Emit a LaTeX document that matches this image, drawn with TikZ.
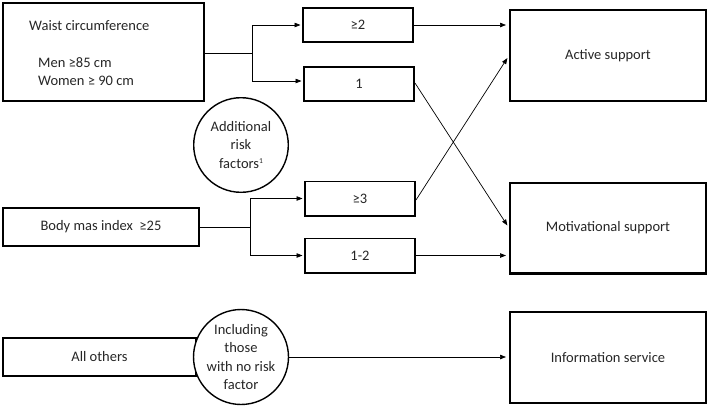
\documentclass[tikz,border=0pt]{standalone}
\usepackage{fontspec}
\setmainfont{Carlito}
\usetikzlibrary{arrows.meta}
\begin{document}
\begin{tikzpicture}[x=1pt,y=-1pt,
  font=\fontsize{14.5}{18.5}\selectfont,
  every node/.style={text=black!85},
  box/.style={draw=black, line width=1.6pt, inner sep=0pt},
  bigbox/.style={draw=black, line width=2.4pt, inner sep=0pt, minimum width=195.6pt, minimum height=90.6pt},
  smallbox/.style={draw=black, line width=1.6pt, minimum width=110.4pt, minimum height=34.4pt, inner sep=0pt},
  circ/.style={draw=black, fill=white, circle, line width=1.4pt, minimum size=94.6pt, inner sep=0pt, align=center},
  conn/.style={line width=0.7pt, -{Triangle[length=6pt,width=4.5pt]}},
  plainln/.style={line width=0.7pt}]
\useasboundingbox (0,0) rectangle (710,408);
% left boxes
\node[box, minimum width=201.4pt, minimum height=98.4pt] (waist) at (103.5,52) {};
\node[anchor=base west, inner sep=0pt] (waisttitle) at (29,30) {Waist circumference};
\node[anchor=base west, inner sep=0pt] (men) at (38,67) {Men ≥85 cm};
\node[anchor=base west, inner sep=0pt] (women) at (38,85) {Women ≥ 90 cm};
\node[box, minimum width=196.4pt, minimum height=38.4pt] (bmi) at (101,227) {Body mas index \ ≥25};
\node[box, minimum width=193.4pt, minimum height=38.4pt] (others) at (99.5,357) {All others};
% circles
\node[circ] (addrisk) at (241,145) {Additional\\risk\\factors\raisebox{5pt}{\fontsize{7.5}{8}\selectfont 1}};
\node[circ] (incl) at (241,357) {Including\\those\\with no risk\\factor};
% middle boxes
\node[smallbox] (ge2) at (358,25) {≥2};
\node[smallbox] (one) at (359,84) {1};
\node[smallbox] (ge3) at (360,198.5) {≥3};
\node[smallbox] (onetwo) at (360,255.5) {1-2};
% right boxes
\node[bigbox] (active) at (608,55.5) {Active support};
\node[bigbox] (motiv) at (608,228) {Motivational support};
\node[bigbox] (info) at (608,357.5) {Information service};
% branches
\coordinate (wbr) at (252,53);
\coordinate (bbr) at (250,227);
\draw[plainln] (waist.east |- wbr) -- (wbr);
\draw[conn, shorten >=1.5pt] (wbr) |- (ge2.west);
\draw[conn, shorten >=1.5pt] (wbr) |- ([yshift=3pt]one.west);
\draw[plainln] (bmi.east |- bbr) -- (bbr);
\draw[conn, shorten >=1.5pt] (bbr) |- (ge3.west);
\draw[conn, shorten >=1.5pt] (bbr) |- (onetwo.west);
% to outcomes
\draw[conn, shorten >=3pt] (ge2.east) -- (ge2.east -| active.west);
\draw[conn, shorten >=3pt] ([yshift=1pt]one.east) -- (motiv.west);
\draw[conn, shorten >=3pt] ([yshift=-1.5pt]ge3.east) -- (active.west);
\draw[conn, shorten >=3pt] (onetwo.east) -- (onetwo.east -| motiv.west);
\draw[conn, shorten >=3pt] (incl.east) -- (incl.east -| info.west);
\end{tikzpicture}
\end{document}
